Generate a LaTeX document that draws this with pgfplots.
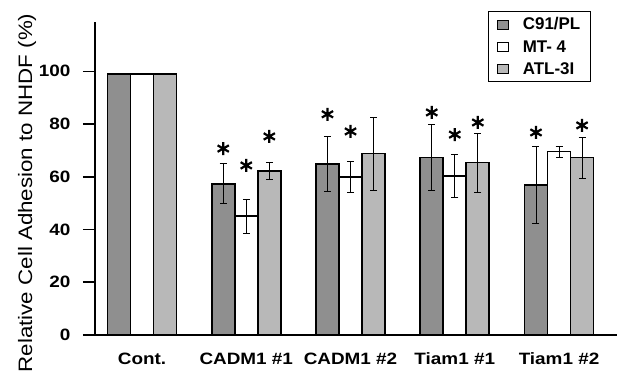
\documentclass[border=0pt]{standalone}
\usepackage{fontspec}
\setmainfont{Liberation Sans}[FakeStretch=1.15]
\newfontfamily\legendfont{Liberation Sans}
\usepackage{pgfplots}
\pgfplotsset{compat=1.18}
\definecolor{cdark}{gray}{0.56}
\definecolor{clight}{gray}{0.72}
\pgfplotsset{
  sqlegend/.style={legend image code/.code={\draw[##1, line width=0.6bp, draw=black] (0bp,-4.5bp) rectangle (11bp,4.5bp);
     \path[draw=none, fill=none] (0bp,0bp) -- (24bp,0bp);}},
  errplot/.style={draw=none, mark=none, forget plot,
    error bars/.cd, y dir=both, y explicit,
    error bar style={line width=0.8bp, black, solid},
    error mark options={line width=0.8bp, black, mark size=3.5bp, rotate=90}},
}
\begin{document}
\begin{tikzpicture}
\begin{axis}[
  name=ax,
  scale only axis, width=522bp, height=313bp,
  xmin=-0.451, xmax=4.556, ymin=0, ymax=118.7,
  axis lines=left, axis line style={-, line width=1.6bp},
  xtick={0,1,2,3,4},
  xticklabels={Cont., CADM1 \#1, CADM1 \#2, Tiam1 \#1, Tiam1 \#2},
  xtick style={draw=none},
  ytick={0,20,40,60,80,100},
  ytick style={draw=black, line width=1.6bp},
  major tick length=12bp, tick align=outside,
  /pgf/number format/assume math mode=true,
  tick label style={font=\bfseries\fontsize{16.5}{18}\selectfont},
  xticklabel style={yshift=-2bp},
  yticklabel style={xshift=-9bp},
  ylabel={Relative Cell Adhesion to NHDF (\%)},
  ylabel style={at={(axis description cs:-0.130,0.454)}, anchor=center, font=\fontsize{19.5}{21}\selectfont},
  legend style={at={(axis description cs:0.950,1.035)}, anchor=north east, draw=black, line width=1.2bp,
    font=\legendfont\bfseries\fontsize{17}{19}\selectfont, row sep=5bp, inner xsep=8bp, inner ysep=4bp,
    nodes={inner sep=2bp}},
  legend cell align=left,
]
\addplot[ybar, bar width=0.221, bar shift=-0.221, fill=cdark, draw=black, line width=1.8bp, sqlegend]
  coordinates {(0,99) (1,57.4) (2,64.9) (3,67.3) (4,57.0)};
\addlegendentry{C91/PL}
\addplot[ybar, bar width=0.221, bar shift=0, fill=white, draw=black, line width=1.8bp, sqlegend]
  coordinates {(0,99) (1,45.0) (2,59.9) (3,60.3) (4,69.6)};
\addlegendentry{MT- 4}
\addplot[ybar, bar width=0.221, bar shift=0.221, fill=clight, draw=black, line width=1.8bp, sqlegend]
  coordinates {(0,99) (1,62.2) (2,68.8) (3,65.4) (4,67.3)};
\addlegendentry{ATL-3I}
% error bars
\addplot[errplot] coordinates {(0.779,57.4) +- (0,7.5) (1.779,64.9) +- (0,10.3) (2.779,67.3) +- (0,12.5) (3.779,57.0) +- (0,14.6)};
\addplot[errplot] coordinates {(1,45.0) +- (0,6.5) (2,59.9) +- (0,6.0) (3,60.3) +- (0,8.1) (4,69.6) +- (0,2.1)};
\addplot[errplot] coordinates {(1.221,62.2) +- (0,3.3) (2.221,68.8) +- (0,13.8) (3.221,65.4) +- (0,11.2) (4.221,67.3) +- (0,7.8)};
% significance asterisks
\addplot[only marks, mark=asterisk, mark size=6.5bp, line width=2.2bp, black, forget plot]
  coordinates {(0.779,70.7) (1.779,83.7) (2.779,84.4) (3.779,76.8)
               (1,64.3) (2,77.2) (3,76.0)
               (1.221,75.3) (3.221,80.6) (4.221,79.5)};
\end{axis}
\pgfresetboundingbox
\path[use as bounding box] ([xshift=-95bp,yshift=-37bp]ax.south west) rectangle ([xshift=10bp,yshift=22bp]ax.north east);
\end{tikzpicture}
\end{document}
